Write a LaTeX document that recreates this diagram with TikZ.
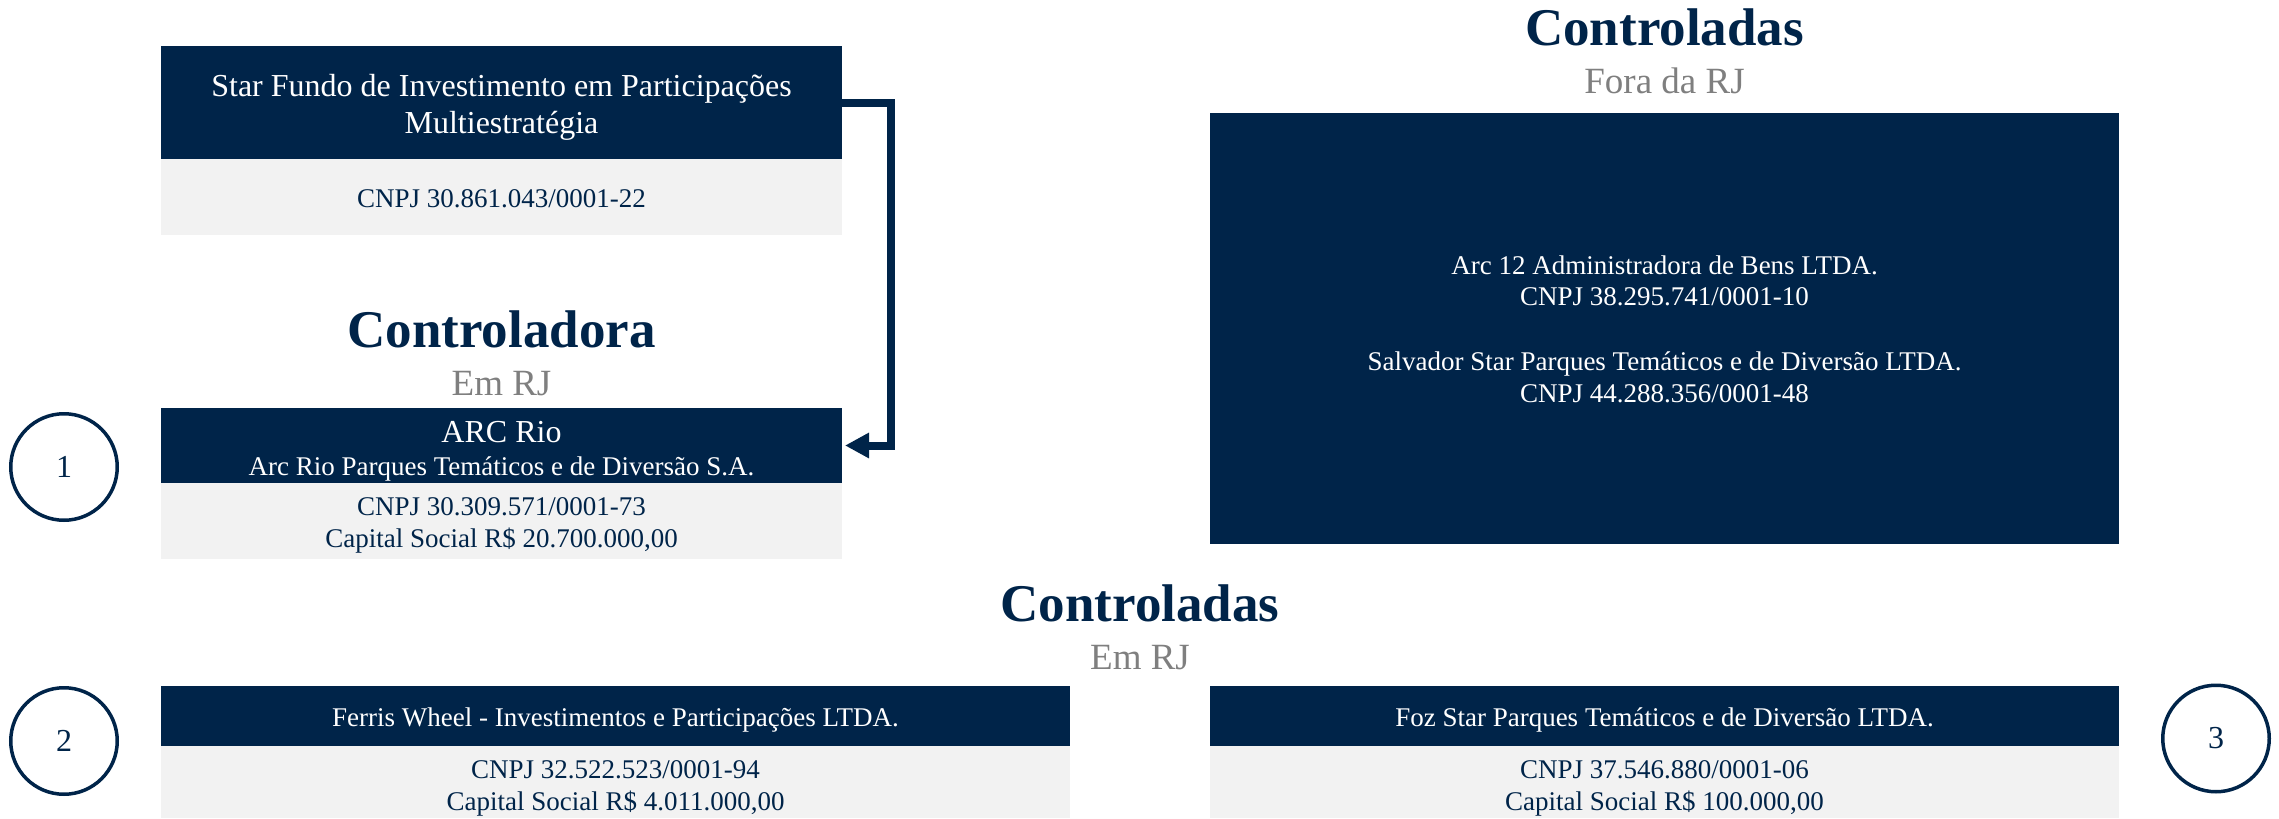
\documentclass[tikz,border=0pt]{standalone}
\usepackage{fontspec}
\setmainfont{Liberation Serif}
\usetikzlibrary{arrows.meta}
\definecolor{navy}{HTML}{002449}
\definecolor{lgray}{HTML}{F2F2F2}
\definecolor{gtext}{HTML}{7F7F7F}
\newcommand{\fsz}[1]{\fontsize{#1pt}{#1pt}\selectfont}
\tikzset{
  darkbox/.style={fill=navy, draw=none, inner sep=0pt, outer sep=0pt, anchor=north west},
  graybox/.style={fill=lgray, draw=none, inner sep=0pt, outer sep=0pt, anchor=north west},
  wtxt/.style={text=white, inner sep=0pt, anchor=base, font=\fsz{#1}},
  ntxt/.style={text=navy, inner sep=0pt, anchor=base, font=\fsz{#1}},
  headtxt/.style={text=navy, inner sep=0pt, anchor=base, font=\fsz{53}\bfseries},
  subtxt/.style={text=gtext, inner sep=0pt, anchor=base, font=\fsz{37}},
  numcircle/.style={circle, draw=navy, line width=3.5pt, minimum size=106.5pt, inner sep=0pt, text=navy, font=\fsz{32}},
  conn/.style={draw=navy, line width=8pt, line join=miter, -{Triangle[length=24pt,width=24pt]}}
}
\begin{document}
\begin{tikzpicture}[x=1pt,y=-1pt]
\useasboundingbox (0,0) rectangle (2279,819);

% Star Fundo
\node[darkbox, minimum width=681pt, minimum height=113pt] (starT) at (161,46) {};
\node[graybox, minimum width=681pt, minimum height=76pt] (starB) at (161,159) {};
\node[wtxt=32] (starT1) at (501.5,96) {Star Fundo de Investimento em Participações};
\node[wtxt=32] (starT2) at (501.5,133) {Multiestratégia};
\node[ntxt=27] (starC) at (501.5,207) {CNPJ 30.861.043/0001-22};

% Controladora
\node[headtxt] (hCtrl) at (501.5,347) {Controladora};
\node[subtxt] (sCtrl) at (501.5,395) {Em RJ};

% ARC Rio
\node[darkbox, minimum width=681pt, minimum height=75pt] (arcT) at (161,408) {};
\node[graybox, minimum width=681pt, minimum height=76pt] (arcB) at (161,483) {};
\node[wtxt=32] (arcT1) at (501.5,442) {ARC Rio};
\node[wtxt=27] (arcT2) at (501.5,475) {Arc Rio Parques Temáticos e de Diversão S.A.};
\node[ntxt=27] (arcC1) at (501.5,515) {CNPJ 30.309.571/0001-73};
\node[ntxt=27] (arcC2) at (501.5,547) {Capital Social R\$ 20.700.000,00};

% Controladas fora da RJ
\node[headtxt] (hFora) at (1664.5,45) {Controladas};
\node[subtxt] (sFora) at (1664.5,93) {Fora da RJ};
\node[darkbox, minimum width=909pt, minimum height=431pt] (fora) at (1210,113) {};
\node[wtxt=27] (fora1) at (1664.5,274) {Arc 12 Administradora de Bens LTDA.};
\node[wtxt=27] (fora2) at (1664.5,305) {CNPJ 38.295.741/0001-10};
\node[wtxt=27] (fora3) at (1664.5,370) {Salvador Star Parques Temáticos e de Diversão LTDA.};
\node[wtxt=27] (fora4) at (1664.5,402) {CNPJ 44.288.356/0001-48};

% Controladas em RJ
\node[headtxt] (hEm) at (1140,621) {Controladas};
\node[subtxt] (sEm) at (1140,669) {Em RJ};

% Ferris Wheel
\node[darkbox, minimum width=909pt, minimum height=60pt] (ferT) at (161,686) {};
\node[graybox, minimum width=909pt, minimum height=72pt] (ferB) at (161,746) {};
\node[wtxt=27] (ferT1) at (615.5,726) {Ferris Wheel - Investimentos e Participações LTDA.};
\node[ntxt=27] (ferC1) at (615.5,778) {CNPJ 32.522.523/0001-94};
\node[ntxt=27] (ferC2) at (615.5,810) {Capital Social R\$ 4.011.000,00};

% Foz Star
\node[darkbox, minimum width=909pt, minimum height=60pt] (fozT) at (1210,686) {};
\node[graybox, minimum width=909pt, minimum height=72pt] (fozB) at (1210,746) {};
\node[wtxt=27] (fozT1) at (1664.5,726) {Foz Star Parques Temáticos e de Diversão LTDA.};
\node[ntxt=27] (fozC1) at (1664.5,778) {CNPJ 37.546.880/0001-06};
\node[ntxt=27] (fozC2) at (1664.5,810) {Capital Social R\$ 100.000,00};

% numbered circles
\node[numcircle] (c1) at (64,467) {1};
\node[numcircle] (c2) at (64,741) {2};
\node[numcircle] (c3) at (2216,738.5) {3};

% connector
\draw[conn] (starT.east) -- ++(48.5,0) |- ([xshift=3pt]arcT.east);
\end{tikzpicture}
\end{document}
